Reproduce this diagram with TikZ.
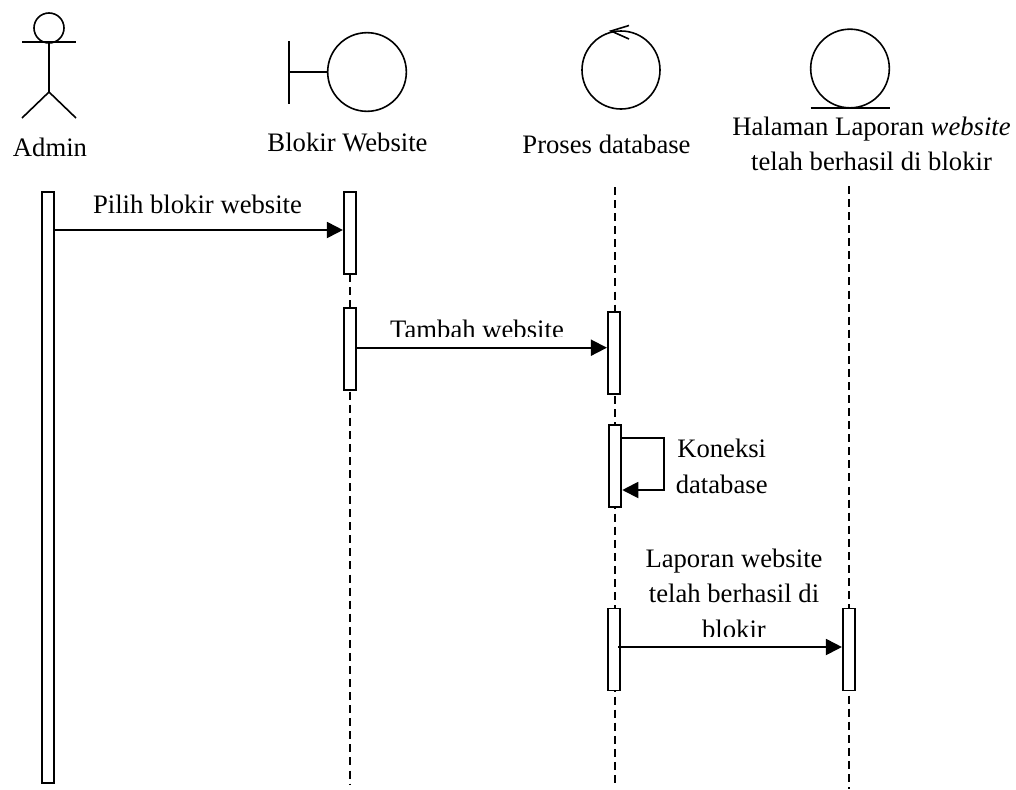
\documentclass[tikz,border=0pt]{standalone}
\usepackage{fontspec}
\setmainfont{Liberation Serif}
\usetikzlibrary{arrows.meta}
\tikzset{
  x=0.75pt, y=-0.75pt,
  ln/.style={line width=1.2pt, black},
  lifeline/.style={line width=1.3pt, black, dash pattern=on 6pt off 3.8pt},
  bar/.style={draw, line width=1.4pt, fill=white, inner sep=0pt, minimum width=9.2pt, minimum height=#1},
  msg/.style={line width=1.4pt, black, -{Triangle[length=12pt,width=12pt]}},
  ring/.style={draw, circle, line width=1.2pt, inner sep=0pt, minimum size=#1},
  lab/.style={anchor=base, inner sep=0pt, font=\fontsize{20}{24}\selectfont}
}
\begin{document}
\begin{tikzpicture}
\useasboundingbox (0,0) rectangle (1016,789);
\fill[white] (0,0) rectangle (1016,789);
% lifeline ends
\coordinate (l2a) at (350,274); \coordinate (l2b) at (350,784);
\coordinate (l3a) at (615,187); \coordinate (l3b) at (615,784);
\coordinate (l4a) at (849,186); \coordinate (l4b) at (849,789);
\draw[lifeline] (l2a) -- (l2b);
\draw[lifeline] (l3a) -- (l3b);
\draw[lifeline] (l4a) -- (l4b);
% actor
\node[ring=22.5pt] (head) at (49,28) {};
\coordinate (armL) at (22,42); \coordinate (armR) at (76,42);
\coordinate (neck) at (49,42); \coordinate (hip) at (49,92);
\coordinate (legL) at (22,118); \coordinate (legR) at (76,118);
\draw[ln] (armL) -- (armR);
\draw[ln] (neck) -- (hip) (legL) -- (hip) -- (legR);
% boundary
\node[ring=59pt] (bnd) at (367,72) {};
\coordinate (bt) at (289,41); \coordinate (bb) at (289,104); \coordinate (bm) at (289,72);
\draw[ln] (bt) -- (bb);
\draw[ln] (bm) -- (bnd.west);
% control
\node[ring=58.5pt] (ctl) at (621,70) {};
\coordinate (ctip) at (611,31); \coordinate (c1) at (629,25.5); \coordinate (c2) at (629,39);
\draw[ln] (c1) -- (ctip) -- (c2);
% entity
\node[ring=59pt] (ent) at (850,68.5) {};
\coordinate (e1) at (810.5,108); \coordinate (e2) at (889.5,108);
\draw[ln] (e1) -- (e2);
% headings
\node[lab] (tA) at (50,156) {Admin};
\node[lab] (tB) at (347.5,151) {Blokir Website};
\node[lab] (tC) at (606.5,153) {Proses database};
\node[lab] (tD) at (871.5,135) {Halaman Laporan \textit{website}};
\node[lab] (tE) at (871.5,170.5) {telah berhasil di blokir};
% activation bars
\node[bar=61.5pt] (b2) at (350,233) {};
\node[bar=443.25pt] (b1) at (47.75,487.5) {};
\node[bar=61.5pt] (b3) at (350,349) {};
\node[bar=61.5pt] (b4) at (614,353.3) {};
\node[bar=61.5pt] (b5) at (615.2,466.2) {};
\node[bar=61.5pt] (b6) at (614,649.5) {};
\node[bar=61.5pt] (b7) at (849,649.5) {};
% messages
\draw[msg] (b1.east |- 0,230) -- (b2.west |- 0,230);
\draw[msg] (b3.east |- 0,347.7) -- (b4.west |- 0,347.7);
\coordinate (s1) at (664,438); \coordinate (s2) at (664,490);
\draw[msg] (b5.east |- s1) -- (s1) -- (s2) -- (b5.east |- s2);
\draw[msg] (618,647) -- (b7.west |- 0,647);
% labels
\node[lab] (m1) at (197.5,213) {Pilih blokir website};
\begin{scope}
\clip (380,300) rectangle (580,336.8);
\node[lab] (m2) at (477,338.5) {Tambah website};
\end{scope}
\node[lab] (m3) at (721.7,457.7) {Koneksi};
\node[lab] (m4) at (721.7,493) {database};
\node[lab] (m5) at (734,567) {Laporan website};
\node[lab] (m6) at (734,602.7) {telah berhasil di};
\begin{scope}
\clip (690,610) rectangle (780,636);
\node[lab] (m7) at (734,638) {blokir};
\end{scope}
\end{tikzpicture}
\end{document}
